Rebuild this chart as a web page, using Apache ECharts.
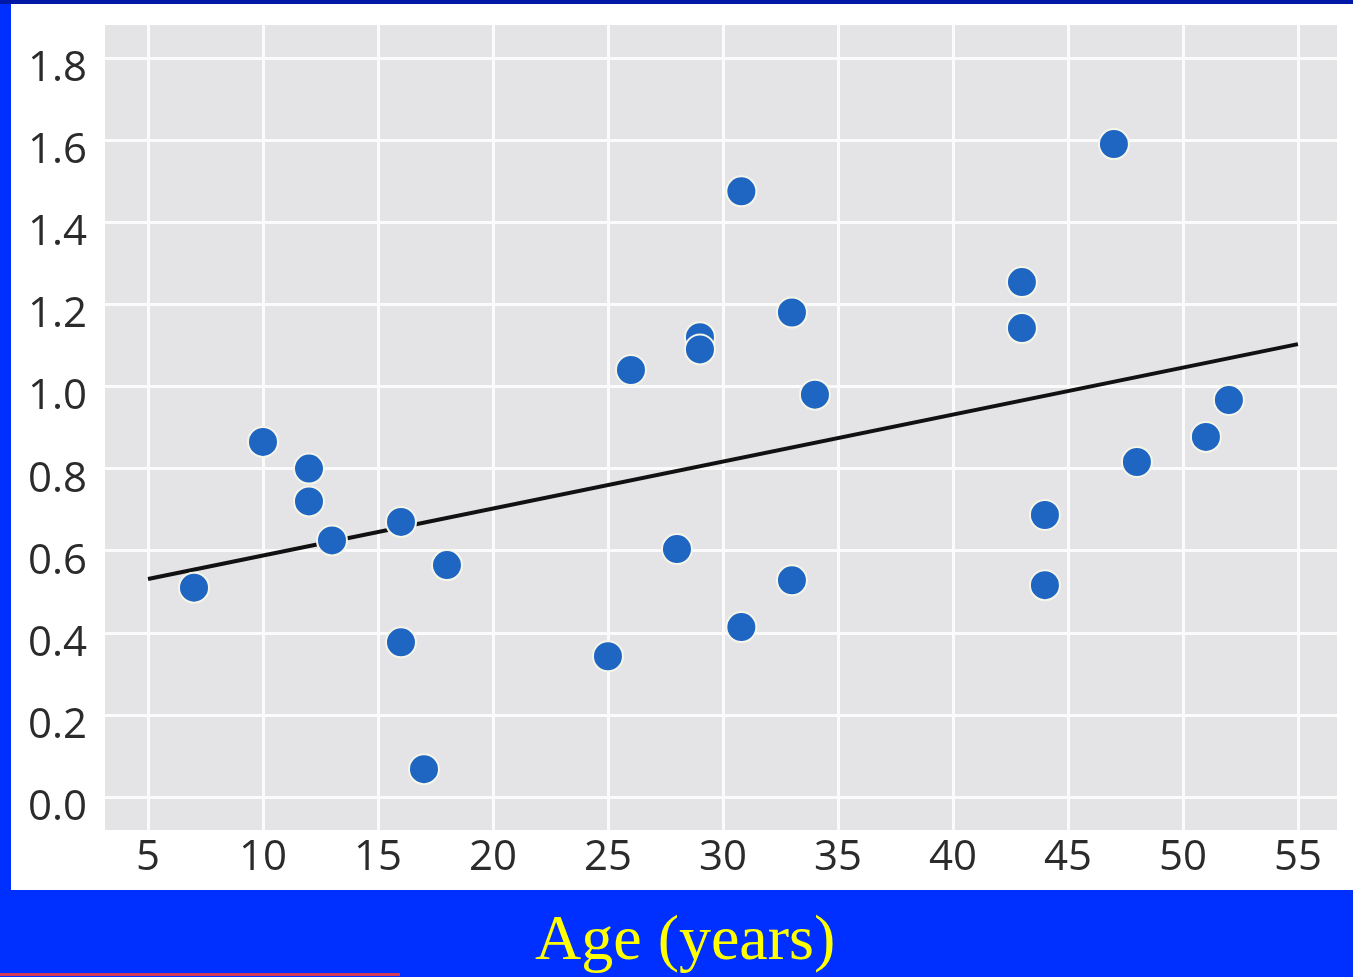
<!DOCTYPE html>
<html>
<head>
<meta charset="utf-8">
<script src="https://cdn.jsdelivr.net/npm/echarts@6/dist/echarts.min.js"></script>
<style>
html,body{margin:0;padding:0;background:#0030ff;}
#chart{width:1353px;height:977px;}
</style>
</head>
<body>
<div id="chart"></div>
<script>
// Data
const ages = [7, 10, 12, 12, 13, 16, 16, 18, 17, 25, 26, 28, 29, 29, 30.8, 30.8, 33, 33, 34, 43, 43, 44, 44, 47, 48, 51, 52];
const values = [0.51, 0.865, 0.80, 0.72, 0.625, 0.67, 0.377, 0.565, 0.068, 0.343, 1.04, 0.604, 1.12, 1.09, 1.475, 0.414, 1.18, 0.528, 0.98, 1.254, 1.142, 0.687, 0.516, 1.59, 0.816, 0.877, 0.967];
const fitX = [5, 55];
const fitY = [0.531, 1.103];
const xTicks = [5, 10, 15, 20, 25, 30, 35, 40, 45, 50, 55];
const yTicks = [0, 0.2, 0.4, 0.6, 0.8, 1.0, 1.2, 1.4, 1.6, 1.8];
const xLabel = 'Age (years)';

const points = ages.map((a, i) => [a, values[i]]);
const fitLine = fitX.map((x, i) => [x, fitY[i]]);

const chart = echarts.init(document.getElementById('chart'), null, {renderer: 'canvas'});
chart.setOption({
  backgroundColor: '#0030ff',
  animation: false,
  graphic: [
    {type: 'rect', z: -10, shape: {x: 0, y: 0, width: 1353, height: 4}, style: {fill: '#0018a8'}},
    {type: 'rect', z: -10, shape: {x: 11, y: 4, width: 1342, height: 886}, style: {fill: '#ffffff'}},
    {type: 'rect', z: -10, shape: {x: 0, y: 973, width: 400, height: 3}, style: {fill: '#d03a55'}},
    {type: 'text', left: 535, top: 910,
      style: {text: xLabel, font: '64px "Liberation Serif", serif', fill: '#ffff00',
        textShadowColor: '#000000', textShadowOffsetX: 3, textShadowOffsetY: 3, textShadowBlur: 0}}
  ],
  grid: {left: 105, right: 16, top: 25, bottom: 147, show: true, backgroundColor: '#e4e4e7', borderWidth: 0},
  xAxis: {
    type: 'value', min: 3.13, max: 56.7,
    axisLine: {show: false},
    axisTick: {show: false, customValues: xTicks},
    splitLine: {show: true, lineStyle: {color: '#fbfbfb', width: 3}},
    axisLabel: {customValues: xTicks, margin: 7, fontFamily: 'Open Sans', fontSize: 42, color: '#2b2b2b',
      formatter: v => String(v)}
  },
  yAxis: {
    type: 'value', min: -0.08, max: 1.88,
    axisLine: {show: false},
    axisTick: {show: false, customValues: yTicks},
    splitLine: {show: true, lineStyle: {color: '#fbfbfb', width: 3}},
    axisLabel: {customValues: yTicks, margin: 18, fontFamily: 'Open Sans', fontSize: 42, color: '#2b2b2b',
      verticalAlign: 'top', lineHeight: 22,
      formatter: v => v.toFixed(1)}
  },
  series: [
    {type: 'scatter', data: points, symbolSize: 30, z: 3,
      itemStyle: {color: '#1f66c2', borderColor: '#f5f5ea', borderWidth: 2, opacity: 1}},
    {type: 'line', data: fitLine, showSymbol: false, symbol: 'none', z: 2,
      lineStyle: {color: '#111111', width: 4}}
  ]
});
</script>
</body>
</html>
